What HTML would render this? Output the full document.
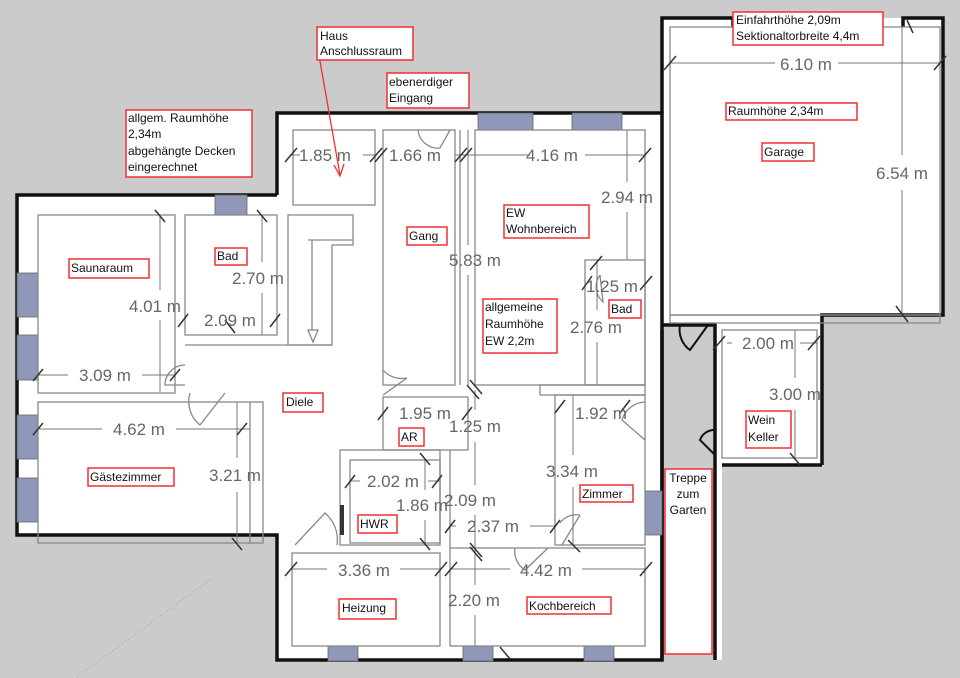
<!DOCTYPE html>
<html><head><meta charset="utf-8"><style>
html,body{margin:0;padding:0;background:#cbcbcb;}
svg{display:block;}
.d{font-family:"Liberation Sans",sans-serif;font-size:17px;fill:#666;text-anchor:middle;}
.l{font-family:"Liberation Sans",sans-serif;font-size:12px;fill:#111;}
.lb{fill:#fff;stroke:#f03030;stroke-width:1.5;}
.w{fill:none;stroke:#888;stroke-width:1.3;}
.dl{stroke:#777;stroke-width:1;}
.t{stroke:#333;stroke-width:1.5;}
.win{fill:#8f98b8;stroke:#666;stroke-width:0.8;}
</style></head><body>
<svg width="960" height="678" viewBox="0 0 960 678" xmlns="http://www.w3.org/2000/svg">
<rect width="960" height="678" fill="#cbcbcb"/>
<!-- building fill -->
<path d="M17,195 H277 V113 H662 V18 H943 V315 H822 V465 H722 V660 H715 V325 H662 V660 H277 V535 H17 Z" fill="#fff"/>
<rect x="662" y="325" width="53" height="335" fill="#cbcbcb"/>
<!-- outer walls -->
<path d="M277,195 H17 V535 H277 V660 H662 V113 H277 V195" fill="none" stroke="#111" stroke-width="3.5"/>
<path d="M662,113 V18 H733 V27 M903,27 V18 H943 V315 H822 V465 M722,465 H822" fill="none" stroke="#111" stroke-width="3.5"/>
<path d="M662,325 H715 V660" fill="none" stroke="#111" stroke-width="3.5"/>
<path d="M662,330 V660" fill="none" stroke="#111" stroke-width="3.5"/>
<!-- windows -->
<rect class="win" x="215" y="195" width="32" height="20"/>
<rect class="win" x="17" y="273" width="21" height="44"/>
<rect class="win" x="17" y="335" width="21" height="45"/>
<rect class="win" x="17" y="415" width="21" height="44"/>
<rect class="win" x="17" y="478" width="21" height="44"/>
<rect class="win" x="478" y="113" width="55" height="17"/>
<rect class="win" x="572" y="113" width="50" height="17"/>
<rect class="win" x="328" y="646" width="30" height="15"/>
<rect class="win" x="463" y="646" width="30" height="15"/>
<rect class="win" x="584" y="646" width="30" height="15"/>
<rect class="win" x="645" y="491" width="17" height="44"/>
<!-- interior rooms -->
<rect class="w" x="38" y="215" width="137" height="178"/>
<rect class="w" x="185" y="215" width="92" height="120"/>
<rect class="w" x="38" y="402" width="225" height="141"/>
<line class="w" x1="250" y1="402" x2="250" y2="543"/>
<rect class="w" x="293" y="130" width="82" height="75"/>
<path class="w" d="M288,215 H353 V245 H332 V345 H288 Z"/>
<path class="w" d="M308,240 H353 M312,240 V330 M308,330 H318 L313,342 Z"/>
<path class="w" d="M185,345 H332"/>
<rect class="w" x="383" y="130" width="72" height="255"/>
<line class="w" x1="460" y1="130" x2="460" y2="385"/>
<rect class="w" x="475" y="130" width="170" height="255"/>
<rect class="w" x="670" y="27" width="270" height="288"/>
<rect class="w" x="585" y="260" width="60" height="125"/>
<rect class="w" x="540" y="385" width="105" height="10"/>
<rect class="w" x="383" y="397" width="85" height="53"/>
<rect class="w" x="340" y="450" width="100" height="95"/>
<rect class="w" x="350" y="460" width="90" height="83"/>
<rect class="w" x="292" y="553" width="148" height="93"/>
<rect class="w" x="450" y="548" width="195" height="98"/>
<rect class="w" x="555" y="395" width="90" height="150"/>
<line class="w" x1="450" y1="450" x2="450" y2="548"/>
<rect class="w" x="722" y="330" width="95" height="128"/>
<rect class="w" x="670" y="315" width="270" height="8"/>
<!-- doors -->
<path class="w" d="M185,365 A20,20 0 0 0 165,385 L185,385"/>
<path class="w" d="M190,393 A30,30 0 0 0 200,425 L225,393"/>
<path class="w" d="M383,370 A25,25 0 0 0 407,378 L383,395"/>
<path class="w" d="M295,545 L325,513 A35,35 0 0 1 337,545"/>
<path class="w" d="M418,130 A20,20 0 0 0 440,148 L450,130"/>
<path class="w" d="M600,275 A20,20 0 0 0 603,302 L600,275"/>
<path class="w" d="M645,402 A25,25 0 0 0 622,420 L645,440"/>
<path class="w" d="M562,545 L580,515 M560,523 A20,20 0 0 1 580,515"/>
<path class="w" d="M515,548 A22,22 0 0 0 525,570 L548,548"/>
<path d="M680,325 A25,25 0 0 0 690,350 L708,325" fill="none" stroke="#111" stroke-width="2"/>
<path d="M715,430 A15,15 0 0 0 700,440 L715,455" fill="none" stroke="#111" stroke-width="2"/>
<rect x="340" y="505" width="4" height="30" fill="#333"/>
<!-- dimension lines -->
<g class="dl">
<line x1="290" y1="155" x2="300" y2="155"/><line x1="363" y1="155" x2="375" y2="155"/>
<line x1="455" y1="155" x2="530" y2="155"/><line x1="585" y1="155" x2="645" y2="155"/>
<line x1="670" y1="63" x2="775" y2="63"/><line x1="838" y1="63" x2="940" y2="63"/>
<line x1="902" y1="27" x2="902" y2="155"/><line x1="902" y1="190" x2="902" y2="315"/>
<line x1="627" y1="130" x2="627" y2="182"/><line x1="627" y1="212" x2="627" y2="260"/>
<line x1="468" y1="130" x2="468" y2="245"/><line x1="468" y1="275" x2="468" y2="385"/>
<line x1="160" y1="215" x2="160" y2="290"/><line x1="160" y1="320" x2="160" y2="392"/>
<line x1="262" y1="215" x2="262" y2="262"/><line x1="262" y1="293" x2="262" y2="335"/>
<line x1="38" y1="375" x2="68" y2="375"/><line x1="142" y1="375" x2="175" y2="375"/>
<line x1="38" y1="429" x2="102" y2="429"/><line x1="176" y1="429" x2="250" y2="429"/>
<line x1="237" y1="402" x2="237" y2="458"/><line x1="237" y1="492" x2="237" y2="543"/>
<line x1="290" y1="569" x2="327" y2="569"/><line x1="400" y1="569" x2="440" y2="569"/>
<line x1="450" y1="569" x2="510" y2="569"/><line x1="582" y1="569" x2="645" y2="569"/>
<line x1="475" y1="390" x2="475" y2="410"/><line x1="475" y1="442" x2="475" y2="485"/>
<line x1="475" y1="515" x2="475" y2="585"/><line x1="475" y1="615" x2="475" y2="646"/>
<line x1="450" y1="526" x2="456" y2="526"/><line x1="530" y1="526" x2="555" y2="526"/>
<line x1="573" y1="395" x2="573" y2="455"/><line x1="573" y1="487" x2="573" y2="545"/>
<line x1="727" y1="343" x2="732" y2="343"/><line x1="800" y1="343" x2="817" y2="343"/>
<line x1="795" y1="330" x2="795" y2="378"/><line x1="795" y1="410" x2="795" y2="458"/>
<line x1="350" y1="481" x2="360" y2="481"/><line x1="428" y1="481" x2="440" y2="481"/>
<line x1="425" y1="460" x2="425" y2="490"/><line x1="425" y1="520" x2="425" y2="543"/>
<line x1="597" y1="260" x2="597" y2="310"/><line x1="597" y1="342" x2="597" y2="385"/>
</g>
<g class="t">
<line x1="285" y1="162" x2="297" y2="148"/><line x1="370" y1="162" x2="382" y2="148"/><line x1="375" y1="162" x2="387" y2="148"/>
<line x1="455" y1="162" x2="467" y2="148"/><line x1="460" y1="162" x2="472" y2="148"/><line x1="639" y1="162" x2="651" y2="148"/>
<line x1="664" y1="70" x2="676" y2="56"/><line x1="934" y1="70" x2="946" y2="56"/>
<line x1="896" y1="306" x2="908" y2="322"/><line x1="907" y1="20" x2="913" y2="33"/>
<line x1="155" y1="210" x2="165" y2="222"/><line x1="257" y1="210" x2="267" y2="222"/>
<line x1="33" y1="381" x2="43" y2="369"/><line x1="170" y1="381" x2="180" y2="369"/>
<line x1="33" y1="435" x2="43" y2="423"/><line x1="237" y1="435" x2="247" y2="423"/>
<line x1="232" y1="538" x2="242" y2="550"/><line x1="285" y1="576" x2="297" y2="562"/>
<line x1="435" y1="576" x2="447" y2="562"/><line x1="445" y1="576" x2="457" y2="562"/>
<line x1="640" y1="576" x2="652" y2="562"/><line x1="470" y1="380" x2="482" y2="394"/>
<line x1="467" y1="385" x2="479" y2="399"/><line x1="568" y1="540" x2="580" y2="552"/>
<line x1="470" y1="543" x2="482" y2="557"/><line x1="470" y1="547" x2="482" y2="561"/>
<line x1="713" y1="350" x2="725" y2="336"/><line x1="808" y1="350" x2="820" y2="336"/>
<line x1="790" y1="453" x2="800" y2="465"/><line x1="590" y1="270" x2="602" y2="256"/>
<line x1="640" y1="290" x2="652" y2="276"/><line x1="582" y1="290" x2="592" y2="276"/>
<line x1="620" y1="413" x2="630" y2="400"/><line x1="555" y1="413" x2="565" y2="400"/>
<line x1="378" y1="420" x2="388" y2="407"/><line x1="462" y1="420" x2="472" y2="407"/>
<line x1="345" y1="488" x2="355" y2="475"/><line x1="432" y1="488" x2="442" y2="475"/>
<line x1="420" y1="453" x2="430" y2="465"/><line x1="420" y1="538" x2="430" y2="550"/>
<line x1="445" y1="533" x2="455" y2="520"/><line x1="550" y1="533" x2="560" y2="520"/>
<line x1="500" y1="647" x2="510" y2="659"/><line x1="225" y1="320" x2="235" y2="333"/>
<line x1="178" y1="327" x2="188" y2="314"/><line x1="270" y1="327" x2="280" y2="314"/>
</g>
<!-- dimension text -->
<g class="d">
<text x="325" y="161">1.85 m</text><text x="415" y="161">1.66 m</text>
<text x="552" y="161">4.16 m</text><text x="806" y="70">6.10 m</text>
<text x="902" y="179">6.54 m</text><text x="627" y="203">2.94 m</text>
<text x="475" y="266">5.83 m</text><text x="258" y="284">2.70 m</text>
<text x="155" y="312">4.01 m</text><text x="230" y="326">2.09 m</text>
<text x="612" y="292">1.25 m</text><text x="596" y="333">2.76 m</text>
<text x="768" y="349">2.00 m</text><text x="795" y="400">3.00 m</text>
<text x="105" y="381">3.09 m</text><text x="139" y="435">4.62 m</text>
<text x="235" y="481">3.21 m</text><text x="425" y="419">1.95 m</text>
<text x="475" y="432">1.25 m</text><text x="601" y="419">1.92 m</text>
<text x="572" y="477">3.34 m</text><text x="393" y="487">2.02 m</text>
<text x="422" y="511">1.86 m</text><text x="470" y="506">2.09 m</text>
<text x="493" y="532">2.37 m</text><text x="364" y="576">3.36 m</text>
<text x="546" y="576">4.42 m</text><text x="474" y="606">2.20 m</text>
</g>
<!-- arrow -->
<path d="M317,44 L340,175 M334,165 L340,176 L344,164" fill="none" stroke="#f03030" stroke-width="1.3"/>
<!-- labels -->
<rect class="lb" x="317" y="27" width="96" height="33"/><text class="l" x="320" y="40">Haus</text><text class="l" x="320" y="55">Anschlussraum</text>
<rect class="lb" x="387" y="73" width="82" height="35"/><text class="l" x="389" y="86">ebenerdiger</text><text class="l" x="389" y="102">Eingang</text>
<rect class="lb" x="126" y="110" width="126" height="67"/><text class="l" x="128" y="122">allgem. Raumhöhe</text><text class="l" x="128" y="138">2,34m</text><text class="l" x="128" y="155">abgehängte Decken</text><text class="l" x="128" y="171">eingerechnet</text>
<rect class="lb" x="733" y="12" width="150" height="33"/><text class="l" x="736" y="24">Einfahrthöhe 2,09m</text><text class="l" x="736" y="40">Sektionaltorbreite 4,4m</text>
<rect class="lb" x="726" y="103" width="131" height="17"/><text class="l" x="728" y="115">Raumhöhe 2,34m</text>
<rect class="lb" x="762" y="143" width="52" height="18"/><text class="l" x="764" y="156">Garage</text>
<rect class="lb" x="504" y="205" width="85" height="33"/><text class="l" x="506" y="217">EW</text><text class="l" x="506" y="233">Wohnbereich</text>
<rect class="lb" x="407" y="227" width="40" height="18"/><text class="l" x="409" y="240">Gang</text>
<rect class="lb" x="69" y="259" width="80" height="19"/><text class="l" x="71" y="272">Saunaraum</text>
<rect class="lb" x="215" y="248" width="32" height="17"/><text class="l" x="217" y="260">Bad</text>
<rect class="lb" x="483" y="299" width="74" height="54"/><text class="l" x="485" y="311">allgemeine</text><text class="l" x="485" y="328">Raumhöhe</text><text class="l" x="485" y="345">EW 2,2m</text>
<rect class="lb" x="609" y="300" width="32" height="18"/><text class="l" x="611" y="313">Bad</text>
<rect class="lb" x="283" y="393" width="40" height="19"/><text class="l" x="286" y="406">Diele</text>
<rect class="lb" x="399" y="428" width="25" height="18"/><text class="l" x="401" y="441">AR</text>
<rect class="lb" x="746" y="411" width="45" height="37"/><text class="l" x="748" y="424">Wein</text><text class="l" x="748" y="441">Keller</text>
<rect class="lb" x="88" y="468" width="86" height="18"/><text class="l" x="90" y="481">Gästezimmer</text>
<rect class="lb" x="665" y="469" width="47" height="185"/><text class="l" x="688" y="482" text-anchor="middle">Treppe</text><text class="l" x="688" y="498" text-anchor="middle">zum</text><text class="l" x="688" y="514" text-anchor="middle">Garten</text>
<rect class="lb" x="580" y="485" width="53" height="17"/><text class="l" x="582" y="498">Zimmer</text>
<rect class="lb" x="358" y="515" width="39" height="18"/><text class="l" x="360" y="528">HWR</text>
<rect class="lb" x="339" y="599" width="57" height="20"/><text class="l" x="342" y="612">Heizung</text>
<rect class="lb" x="527" y="597" width="84" height="17"/><text class="l" x="529" y="610">Kochbereich</text>
<line x1="210" y1="580" x2="75" y2="678" stroke="#99a" stroke-width="0.8" stroke-dasharray="1,3"/>
</svg>
</body></html>
